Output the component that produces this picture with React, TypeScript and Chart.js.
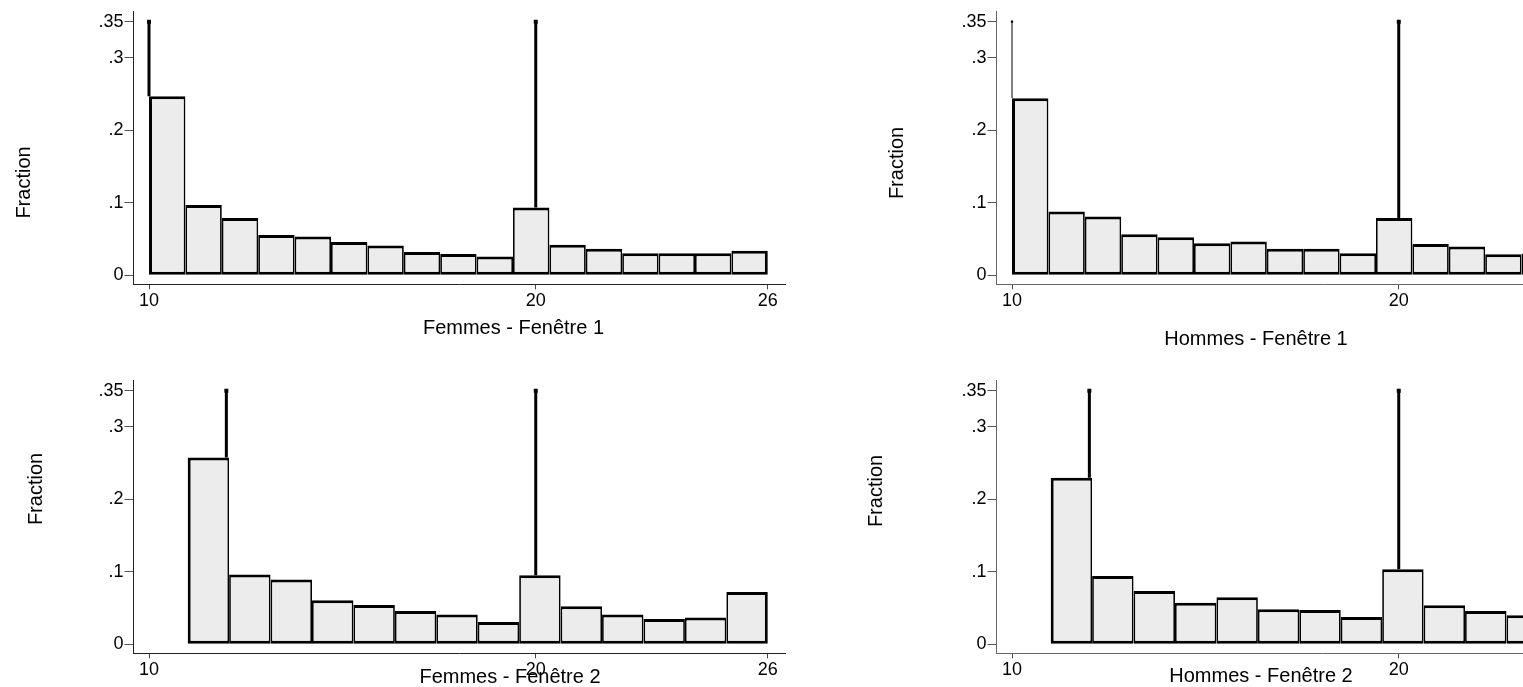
import React, { useEffect, useRef } from "react";
import { Chart, registerables } from "chart.js";

Chart.register(...registerables);

const FONT = "'Liberation Sans', Arial, Helvetica, sans-serif";

// Bin definitions (window 1: 17 bins from 10 to 26, window 2: 14 bins from 11 to 26)
const binStartF1 = 10;
const binWidthF1 = 16 / 17;
const binStartF2 = 11;
const binWidthF2 = 15 / 14;

// Fractions per bin
const femmes1 = [0.247, 0.097, 0.079, 0.0556, 0.0537, 0.046, 0.041, 0.032, 0.0295, 0.026, 0.0937, 0.042, 0.0368, 0.0303, 0.0303, 0.0303, 0.034];
const hommes1 = [0.2445, 0.0879, 0.081, 0.0566, 0.0525, 0.0442, 0.0465, 0.0368, 0.0368, 0.0304, 0.0792, 0.0433, 0.0396, 0.029, 0.03, 0.028, 0.034];
const femmes2 = [0.2577, 0.0964, 0.0895, 0.0609, 0.0544, 0.046, 0.041, 0.0309, 0.0954, 0.0526, 0.041, 0.035, 0.0369, 0.0723];
const hommes2 = [0.23, 0.0944, 0.0737, 0.0575, 0.0649, 0.0483, 0.0474, 0.0378, 0.1036, 0.0539, 0.046, 0.04, 0.036, 0.062];

// Reference lines
const spikesW1 = [10, 20];
const spikesW2 = [12, 20];
const spikeTop = 0.35;

// Ticks
const yTickValues = [0, 0.1, 0.2, 0.3, 0.35];
const yTickLabels = ["0", ".1", ".2", ".3", ".35"];
const xTickValues = [10, 20, 26];
const xTickLabels = ["10", "20", "26"];

const yTitle = "Fraction";

const CANVAS_W = 800;
const CANVAS_H = 360;

type PanelDef = {
  key: string;
  left: number;
  top: number;
  values: number[];
  binStart: number;
  binWidth: number;
  spikes: number[];
  spikeWidths: number[];
  xTitle: string;
  xTitleX: number;
  xTitleY: number;
  yTitleX: number;
  yTitleY: number;
  axisColor: string;
};

const panels: PanelDef[] = [
  { key: "f1", left: 0, top: 0, values: femmes1, binStart: binStartF1, binWidth: binWidthF1, spikes: spikesW1, spikeWidths: [3, 3], xTitle: "Femmes - Fenêtre 1", xTitleX: 513.5, xTitleY: 334, yTitleX: 30, yTitleY: 182.5, axisColor: "#222" },
  { key: "h1", left: 863, top: 0, values: hommes1, binStart: binStartF1, binWidth: binWidthF1, spikes: spikesW1, spikeWidths: [1, 3], xTitle: "Hommes - Fenêtre 1", xTitleX: 393, xTitleY: 345, yTitleX: 40, yTitleY: 163, axisColor: "#666" },
  { key: "f2", left: 0, top: 369, values: femmes2, binStart: binStartF2, binWidth: binWidthF2, spikes: spikesW2, spikeWidths: [3, 3], xTitle: "Femmes - Fenêtre 2", xTitleX: 510, xTitleY: 314, yTitleX: 41.5, yTitleY: 120, axisColor: "#222" },
  { key: "h2", left: 863, top: 369, values: hommes2, binStart: binStartF2, binWidth: binWidthF2, spikes: spikesW2, spikeWidths: [3, 3], xTitle: "Hommes - Fenêtre 2", xTitleX: 398, xTitleY: 313, yTitleX: 19, yTitleY: 122, axisColor: "#666" },
];

const panelTextPlugin = {
  id: "panelText",
  afterDraw(chart: any, _args: any, opts: any) {
    const ctx = chart.ctx;
    ctx.save();
    ctx.fillStyle = "#000";
    ctx.font = `20px ${FONT}`;
    ctx.textAlign = "center";
    ctx.textBaseline = "alphabetic";
    ctx.fillText(opts.xTitle, opts.xTitleX, opts.xTitleY);
    ctx.translate(opts.yTitleX, opts.yTitleY);
    ctx.rotate(-Math.PI / 2);
    ctx.fillText(opts.yTitle, 0, 0);
    ctx.restore();
  },
};

function PanelChart({ p }: { p: PanelDef }) {
  const ref = useRef<HTMLCanvasElement | null>(null);
  useEffect(() => {
    if (!ref.current) return;
    const n = p.values.length;
    const barData = p.values.map((v, i) => ({ x: p.binStart + p.binWidth * (i + 0.5), y: v }));
    // each reference line rises from the top of the bar it stands in
    const barHeightAt = (sx: number) => {
      const idx = Math.min(n - 1, Math.max(0, Math.floor((sx - p.binStart) / p.binWidth)));
      return p.values[idx];
    };
    const spikeSets = p.spikes.map((sx, i) => ({
      type: "line" as const,
      data: [
        { x: sx, y: barHeightAt(sx) },
        { x: sx, y: spikeTop },
      ],
      borderColor: "#000",
      borderWidth: p.spikeWidths[i],
      borderCapStyle: "butt",
      pointRadius: [0, p.spikeWidths[i] > 1 ? 2.8 : 1.6],
      pointStyle: "rect",
      pointBackgroundColor: "#000",
      pointBorderWidth: 0,
      fill: false,
      order: 2,
    }));
    const chart = new Chart(ref.current, {
      type: "bar",
      data: {
        datasets: [
          {
            type: "bar",
            data: barData,
            backgroundColor: "rgb(236,236,236)",
            borderColor: "#000",
            borderSkipped: false,
            inflateAmount: 0,
            borderWidth: (c: any) => ({
              top: 3,
              bottom: 3,
              left: c.dataIndex === 0 ? 3 : 1.75,
              right: c.dataIndex === n - 1 ? 3 : 1.75,
            }),
            barPercentage: 1,
            categoryPercentage: 1,
            order: 1,
          } as any,
          ...(spikeSets as any[]),
        ],
      },
      options: {
        animation: false,
        responsive: false,
        maintainAspectRatio: false,
        devicePixelRatio: 1,
        events: [],
        layout: { padding: { top: 11, right: 15, left: 0, bottom: 0 } },
        plugins: {
          legend: { display: false },
          tooltip: { enabled: false },
          panelText: {
            xTitle: p.xTitle,
            xTitleX: p.xTitleX,
            xTitleY: p.xTitleY,
            yTitle: yTitle,
            yTitleX: p.yTitleX,
            yTitleY: p.yTitleY,
          },
        } as any,
        scales: {
          x: {
            type: "linear",
            min: 9.599,
            max: 26.445,
            offset: false,
            afterBuildTicks: (scale: any) => {
              scale.ticks = xTickValues.map((v) => ({ value: v }));
            },
            afterFit: (scale: any) => {
              scale.height = CANVAS_H - 284.3;
            },
            ticks: {
              autoSkip: false,
              maxRotation: 0,
              padding: 3,
              color: "#000",
              font: { family: FONT, size: 18, lineHeight: 1 },
              callback: (v: any) => xTickLabels[xTickValues.indexOf(v)],
            },
            grid: {
              drawOnChartArea: false,
              drawTicks: true,
              tickLength: 5,
              color: "#444",
              offset: false,
            },
            border: { display: true, color: p.axisColor, width: 1 },
          },
          y: {
            type: "linear",
            min: -0.01242,
            max: 0.3648,
            afterBuildTicks: (scale: any) => {
              scale.ticks = yTickValues.map((v) => ({ value: v }));
            },
            afterFit: (scale: any) => {
              scale.width = 133.5;
            },
            ticks: {
              autoSkip: false,
              padding: 1,
              color: "#000",
              font: { family: FONT, size: 18, lineHeight: 1 },
              callback: (v: any) => yTickLabels[yTickValues.indexOf(v)],
            },
            grid: {
              drawOnChartArea: false,
              drawTicks: true,
              tickLength: 9,
              color: "#555",
            },
            border: { display: true, color: p.axisColor, width: 1 },
          },
        },
      } as any,
      plugins: [panelTextPlugin as any],
    });
    return () => chart.destroy();
  }, [p]);
  return (
    <canvas
      ref={ref}
      width={CANVAS_W}
      height={CANVAS_H}
      style={{ position: "absolute", left: p.left, top: p.top, width: CANVAS_W, height: CANVAS_H }}
    />
  );
}

export default function App() {
  return (
    <div
      style={{
        position: "fixed",
        left: 0,
        top: 0,
        width: 1523,
        height: 687,
        overflow: "hidden",
        background: "#fff",
      }}
    >
      {panels.map((p) => (
        <PanelChart key={p.key} p={p} />
      ))}
    </div>
  );
}
